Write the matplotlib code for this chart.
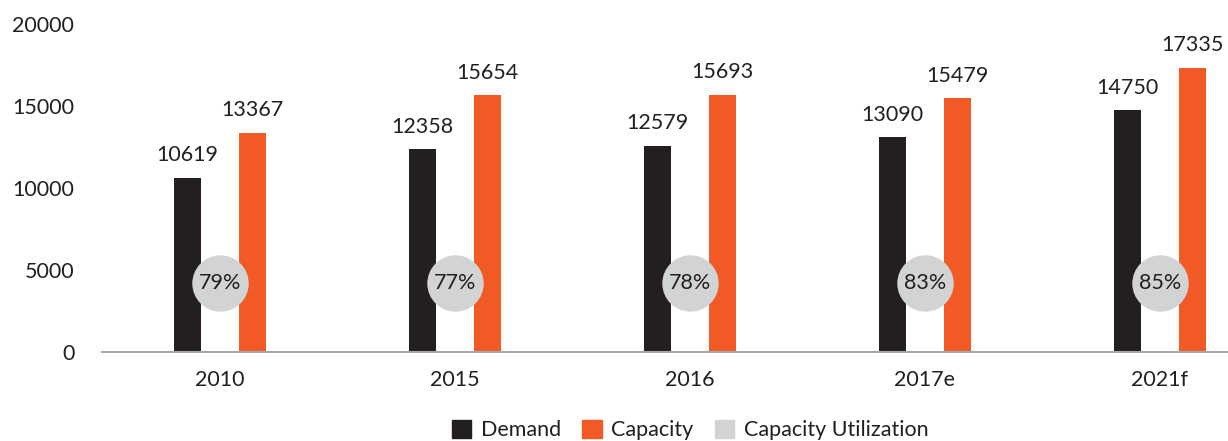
import numpy as np
import matplotlib.pyplot as plt
from matplotlib.patches import Patch

# data
years = ['2010', '2015', '2016', '2017e', '2021f']
demand = [10619, 12358, 12579, 13090, 14750]
capacity = [13367, 15654, 15693, 15479, 17335]
utilization = ['79%', '77%', '78%', '83%', '85%']

plt.rcParams['font.family'] = ['Lato', 'DejaVu Sans']
txt = '#231f20'
c_dem = '#231f20'
c_cap = '#f15a24'
c_util = '#d1d3d4'
fs = 15.5

fig = plt.figure(figsize=(12.28, 4.41), dpi=100)
ax = fig.add_axes([0.0831, 0.2018, 0.9169, 0.7438])

x = np.arange(len(years))
w = 0.115
off = 0.138
ax.bar(x - off, demand, w, color=c_dem, zorder=2)
ax.bar(x + off, capacity, w, color=c_cap, zorder=2)

for i in range(len(years)):
    ax.annotate(str(demand[i]), (x[i] - off, demand[i]), xytext=(0, 9),
                textcoords='offset points', ha='center', va='bottom',
                fontsize=fs, color=txt)
    ax.annotate(str(capacity[i]), (x[i] + off, capacity[i]), xytext=(0, 9),
                textcoords='offset points', ha='center', va='bottom',
                fontsize=fs, color=txt)

# utilization bubbles
ax.scatter(x, [4200] * len(x), s=1650, color=c_util, zorder=3, linewidths=0)
for i in range(len(years)):
    ax.text(x[i], 4200, utilization[i], ha='center', va='center',
            fontsize=fs, color=txt, zorder=4)

ax.set_xlim(-0.5, 4.29)
ax.set_ylim(0, 20000)
ax.set_yticks([0, 5000, 10000, 15000, 20000])
ax.set_xticks(x)
ax.set_xticklabels(years)
ax.tick_params(axis='y', length=0, pad=20, labelsize=fs, labelcolor=txt)
ax.tick_params(axis='x', length=0, pad=13, labelsize=fs, labelcolor=txt)
for s in ['top', 'right', 'left']:
    ax.spines[s].set_visible(False)
ax.spines['bottom'].set_color('#a7a9ac')
ax.spines['bottom'].set_linewidth(1.5)

handles = [Patch(color=c_dem, label='Demand'),
           Patch(color=c_cap, label='Capacity'),
           Patch(color=c_util, label='Capacity Utilization')]
fig.legend(handles=handles, loc='center', bbox_to_anchor=(0.562, 0.025),
           ncol=3, frameon=False, fontsize=fs, handlelength=0.9,
           handleheight=0.9, handletextpad=0.45, columnspacing=1.0,
           labelcolor=txt, borderpad=0.2)

fig.savefig('out.png', dpi=100)
